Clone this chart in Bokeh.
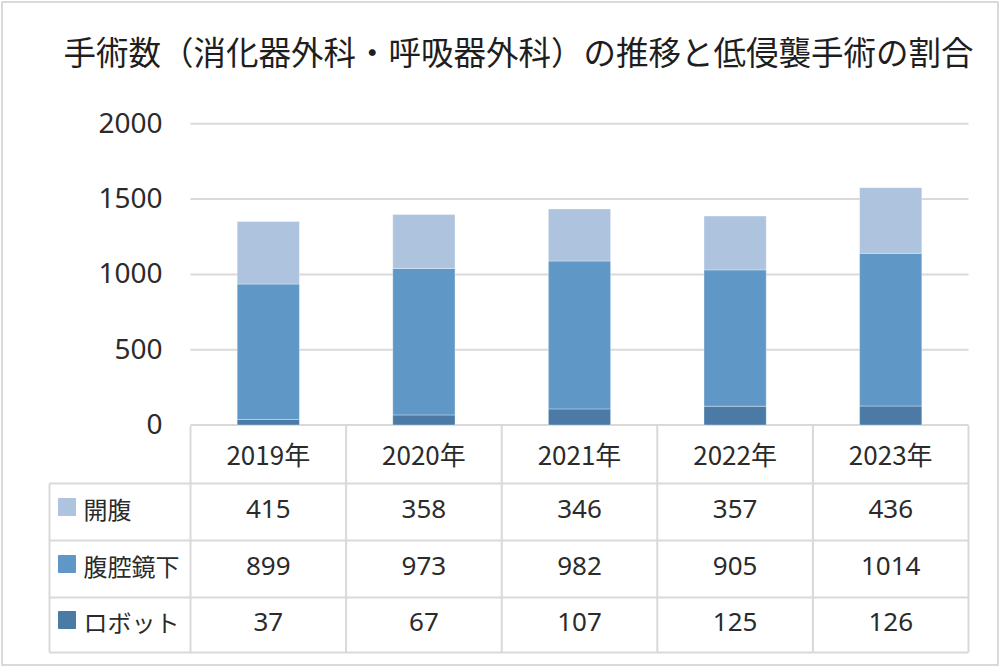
from bokeh.plotting import figure
from bokeh.models import Range1d, ColumnDataSource
from bokeh.core.properties import value
from bokeh.embed import file_html
from bokeh.resources import INLINE

# ---------------- data ----------------
title = "手術数（消化器外科・呼吸器外科）の推移と低侵襲手術の割合"
years = ["2019年", "2020年", "2021年", "2022年", "2023年"]
open_surgery = [415, 358, 346, 357, 436]      # 開腹
laparoscopic = [899, 973, 982, 905, 1014]     # 腹腔鏡下
robotic = [37, 67, 107, 125, 126]             # ロボット
series_names = ["開腹", "腹腔鏡下", "ロボット"]
y_ticks = [0, 500, 1000, 1500, 2000]
y_tick_labels = ["0", "500", "1000", "1500", "2000"]

# ---------------- styles / layout ----------------
colors = {"開腹": "#adc3de", "腹腔鏡下": "#5f97c6", "ロボット": "#4a7aa5"}
W, H = 1000, 669
plot_left, plot_right = 190, 968
y0_px, ymax_px = 424.5, 123.3
ymax = 2000
cat_w = (plot_right - plot_left) / len(years)
scale = (y0_px - ymax_px) / ymax
grid_color = "#d9d9d9"
txt_color = "#2b2b2b"
jp = value("Noto Sans CJK JP")
num = value("Noto Sans")

p = figure(width=W, height=H, output_backend="svg", toolbar_location=None,
           x_range=Range1d(-plot_left / cat_w, (W - plot_left) / cat_w),
           y_range=Range1d(H, 0),
           x_axis_location=None, y_axis_location=None, min_border=0)
p.outline_line_color = None
p.grid.visible = False
p.background_fill_color = "white"
p.border_fill_color = "white"
p.extra_x_ranges = {"px": Range1d(0, W)}
p.extra_y_ranges = {"val": Range1d(-(H - y0_px) / scale, ymax + ymax_px / scale)}

xc = [i + 0.5 for i in range(len(years))]

# gridlines
p.segment(x0=[0] * len(y_ticks), x1=[len(years)] * len(y_ticks), y0=y_ticks, y1=y_ticks,
          y_range_name="val", line_color=grid_color, line_width=2)

# stacked bars
src = ColumnDataSource(dict(x=xc, robot=robotic, lap=laparoscopic, open=open_surgery))
p.vbar_stack(["robot", "lap", "open"], x="x", width=0.4, source=src,
             fill_color=[colors["ロボット"], colors["腹腔鏡下"], colors["開腹"]],
             line_color="white", line_alpha=0.35, line_width=1, y_range_name="val")

# y tick labels
p.text(x=[162] * len(y_ticks), y=y_ticks, text=y_tick_labels, x_range_name="px", y_range_name="val",
       text_align="right", text_baseline="middle", text_font=num, text_font_size="28px",
       text_color=txt_color, y_offset=-1)

# title
p.text(x=[518], y=[50], text=[title], x_range_name="px", text_align="center",
       text_baseline="middle", text_font=jp, text_font_size="32.5px", text_color="#1e1e1e")

# ---------------- data table ----------------
header_top, header_bot = 425, 483
row_edges = [483, 540, 597, 652]
table_left = 49

# vertical lines (column boundaries) in category units
p.segment(x0=list(range(len(years) + 1)), x1=list(range(len(years) + 1)),
          y0=[header_top] * (len(years) + 1), y1=[row_edges[-1]] * (len(years) + 1),
          line_color=grid_color, line_width=2)
# left border of legend column
p.segment(x0=[table_left], x1=[table_left], y0=[row_edges[0]], y1=[row_edges[-1]],
          x_range_name="px", line_color=grid_color, line_width=2)
# horizontal lines
p.segment(x0=[table_left] * len(row_edges), x1=[plot_right] * len(row_edges), y0=row_edges, y1=row_edges,
          x_range_name="px", line_color=grid_color, line_width=2)

# header
p.text(x=xc, y=[(header_top + header_bot) / 2 - 1] * len(years), text=years,
       text_align="center", text_baseline="middle", text_font=jp, text_font_size="26px",
       text_color=txt_color)

rows = {"開腹": open_surgery, "腹腔鏡下": laparoscopic, "ロボット": robotic}
for r, name in enumerate(series_names):
    yc = (row_edges[r] + row_edges[r + 1]) / 2 - 3
    p.text(x=xc, y=[yc] * len(years), text=[str(v) for v in rows[name]],
           text_align="center", text_baseline="middle", text_font=num, text_font_size="26px",
           text_color=txt_color)
    p.scatter(x=[66.5], y=[yc - 2], marker="square", size=17, x_range_name="px",
              fill_color=colors[name], line_color=colors[name])
    p.text(x=[83], y=[yc - 1], text=[name], x_range_name="px", text_align="left",
           text_baseline="middle", text_font=jp, text_font_size="24px", text_color=txt_color)

# outer frame
p.quad(left=[1.5], right=[997.5], top=[1.5], bottom=[664.5], x_range_name="px",
       fill_color=None, line_color=grid_color, line_width=2)

open("out.html", "w").write(file_html(p, INLINE))
